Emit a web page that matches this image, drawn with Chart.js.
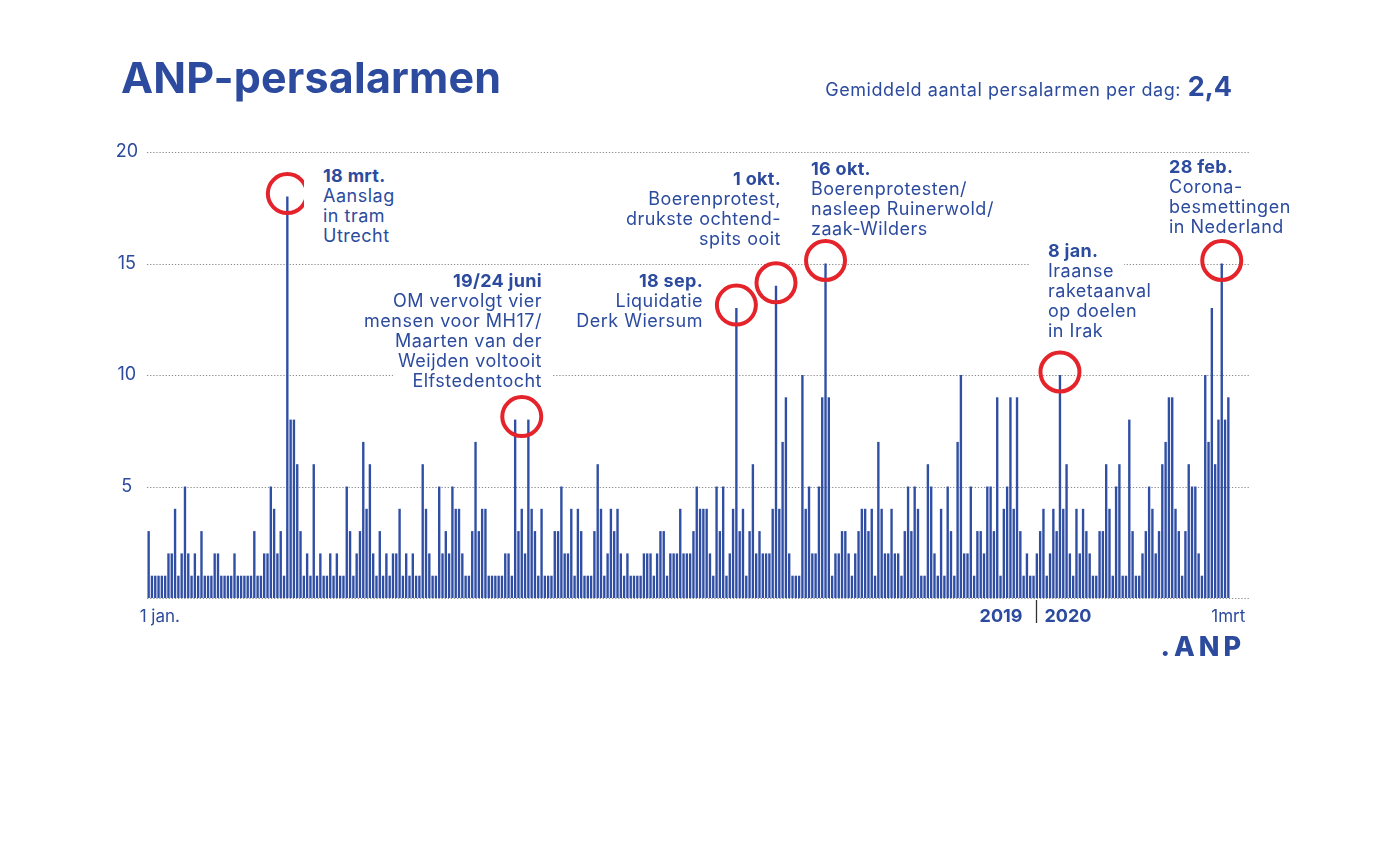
<!DOCTYPE html>
<html>
<head>
<meta charset="utf-8">
<title>ANP-persalarmen</title>
<style>
  html, body { margin: 0; background: #fff; }
  body { font-family: Inter, "Noto Sans", sans-serif; color: #2c4b9e; }
  #wrap { position: relative; width: 1400px; height: 855px; overflow: hidden; }
  #chart { position: absolute; left: 0; top: 0; }
  .title { position: absolute; left: 121px; top: 56px; font-size: 43px; font-weight: 700; line-height: 43px; letter-spacing: 0.2px; white-space: nowrap; }
  .avg { position: absolute; right: 168px; top: 72px; font-size: 18px; line-height: 30px; letter-spacing: 0.55px; white-space: nowrap; }
  .avg b { font-size: 27px; font-weight: 700; margin-left: 1px; letter-spacing: 0; }
  .logo { position: absolute; right: 155px; top: 632px; font-size: 27px; font-weight: 800; letter-spacing: 4px; line-height: 30px; }
  .note { position: absolute; font-size: 18px; line-height: 20px; letter-spacing: 0.5px; white-space: nowrap; }
  .note div span { display: inline-block; background: #fff; padding: 0 10px 0 19px; margin: 0 -10px 0 -19px; }
  .note .d { font-weight: 700; line-height: 21px; letter-spacing: 0.3px; }
</style>
</head>
<body>
<div id="wrap">
  <canvas id="chart" width="1400" height="855" style="width:1400px;height:855px"></canvas>
  <div class="title">ANP-persalarmen</div>
  <div class="avg">Gemiddeld aantal persalarmen per dag: <b>2,4</b></div>
  <div class="logo">.ANP</div>
  <div id="notes"></div>
</div>

<script src="https://cdn.jsdelivr.net/npm/chart.js@4.4.1/dist/chart.umd.min.js"></script>
<script>
// persalarmen per dag, 1 jan. 2019 - 1 mrt 2020 (alleen dagen met een alarm)
const alarmsPerDay = [
  3,1,1,1,1,1,2,2,4,1,2,5,2,1,2,1,3,1,1,1,2,2,1,1,1,1,2,1,1,1,1,1,3,1,1,2,2,5,4,2,3,1,18,8,8,6,3,
  1,2,1,6,1,2,1,1,2,1,2,1,1,5,3,1,2,3,7,4,6,2,1,3,1,2,1,2,2,4,1,2,1,2,1,1,6,4,2,1,1,5,2,3,2,5,4,
  4,2,1,1,3,7,3,4,4,1,1,1,1,1,2,2,1,8,3,4,2,8,4,3,1,4,1,1,1,3,3,5,2,2,4,1,4,3,1,1,1,3,6,4,1,2,4,
  3,4,2,1,2,1,1,1,1,2,2,2,1,2,3,3,1,2,2,2,4,2,2,2,3,5,4,4,4,2,1,5,3,5,1,2,4,13,3,4,1,3,6,2,3,2,2,
  2,4,14,4,7,9,2,1,1,1,10,4,5,2,2,5,9,15,9,1,2,2,3,3,2,1,2,3,4,4,3,4,1,7,4,2,2,4,2,2,1,3,5,3,5,4,1,1,
  6,5,2,1,4,1,5,3,1,7,10,2,2,5,1,3,3,2,5,5,3,9,1,4,5,9,4,9,3,1,2,1,1,2,3,4,1,2,4,3,10,4,6,2,1,4,2,
  4,3,2,1,1,3,3,6,4,1,5,6,1,1,8,3,1,1,2,3,5,4,2,3,6,7,9,9,4,3,1,3,6,5,5,2,1,10,7,13,6,8,15,8,9
];
const yTickValues = [0, 5, 10, 15, 20];
const startLabel = '1 jan.';
const endLabel = '1mrt';
const yearLabels = ['2019', '2020'];
const firstBar2020 = 270;

// uitschieters: welke staven omcirkeld worden, met de bijbehorende tekst
const eventBars = [[42], [111, 115], [178], [190], [205], [276], [325]];
const eventDates = ['18 mrt.', '19/24 juni', '18 sep.', '1 okt.', '16 okt.', '8 jan.', '28 feb.'];
const eventTexts = [
  ['Aanslag', 'in tram', 'Utrecht'],
  ['OM vervolgt vier', 'mensen voor MH17/', 'Maarten van der', 'Weijden voltooit', 'Elfstedentocht'],
  ['Liquidatie', 'Derk Wiersum'],
  ['Boerenprotest,', 'drukste ochtend-', 'spits ooit'],
  ['Boerenprotesten/', 'nasleep Ruinerwold/', 'zaak-Wilders'],
  ['Iraanse', 'raketaanval', 'op doelen', 'in Irak'],
  ['Corona-', 'besmettingen', 'in Nederland']
];

// plek van de teksten op de pagina
const notePlace = [
  { x: 323, y: 165, align: 'left' },
  { x: 542, y: 270, align: 'right' },
  { x: 703, y: 270, align: 'right' },
  { x: 781, y: 168, align: 'right' },
  { x: 811, y: 158, align: 'left' },
  { x: 1048, y: 240, align: 'left' },
  { x: 1169, y: 156, align: 'left' }
];

const BLUE = '#2c4b9e';
const BAR = '#2f4ea4';
const RED = '#e5232a';

const notes = document.getElementById('notes');
eventDates.forEach((d, i) => {
  const p = notePlace[i];
  const el = document.createElement('div');
  el.className = 'note';
  el.style.top = p.y + 'px';
  if (p.align === 'left') el.style.left = p.x + 'px';
  else { el.style.right = (1400 - p.x) + 'px'; el.style.textAlign = 'right'; }
  el.innerHTML = '<div class="d"><span>' + d + '</span></div>' +
    eventTexts[i].map(t => '<div><span>' + t + '</span></div>').join('');
  notes.appendChild(el);
});

const decor = {
  id: 'decor',
  beforeDatasetsDraw(chart) {
    const { ctx, scales: { x, y } } = chart;
    ctx.save();
    ctx.strokeStyle = '#8e8e8e';
    ctx.lineWidth = 1.2;
    ctx.setLineDash([1.3, 1.8]);
    yTickValues.forEach(v => {
      const py = Math.round(y.getPixelForValue(v)) + 0.5;
      ctx.beginPath();
      ctx.moveTo(x.left, py);
      ctx.lineTo(x.right + 20, py);
      ctx.stroke();
    });
    ctx.restore();
  },
  afterDatasetsDraw(chart) {
    const { ctx, scales: { x, y } } = chart;
    ctx.save();
    // rode cirkels
    ctx.strokeStyle = RED;
    ctx.lineWidth = 4;
    eventBars.forEach(idx => {
      const cx = idx.reduce((s, i) => s + x.getPixelForValue(i), 0) / idx.length;
      const top = Math.max(...idx.map(i => alarmsPerDay[i]));
      const cy = y.getPixelForValue(top) - 3;
      ctx.beginPath();
      ctx.arc(cx, cy, 19.5, 0, Math.PI * 2);
      ctx.stroke();
    });

    // x-as
    const base = y.getPixelForValue(0);
    const first = x.getPixelForValue(0);
    const last = x.getPixelForValue(alarmsPerDay.length - 1);
    const split = (x.getPixelForValue(firstBar2020 - 1) + x.getPixelForValue(firstBar2020)) / 2 - 2;
    ctx.strokeStyle = '#333';
    ctx.lineWidth = 1.3;
    ctx.beginPath();
    ctx.moveTo(split, base + 2);
    ctx.lineTo(split, base + 25);
    ctx.stroke();

    ctx.fillStyle = BLUE;
    ctx.textBaseline = 'alphabetic';
    const ly = base + 24;
    ctx.font = '17px Inter';
    ctx.textAlign = 'left';
    ctx.fillText(startLabel, first - 9, ly);
    ctx.textAlign = 'right';
    ctx.fillText(endLabel, last + 17, ly);
    ctx.font = 'bold 18px Inter';
    ctx.fillText(yearLabels[0], split - 14, ly);
    ctx.textAlign = 'left';
    ctx.fillText(yearLabels[1], split + 8, ly);
    ctx.restore();
  }
};

new Chart(document.getElementById('chart'), {
  type: 'bar',
  data: {
    labels: alarmsPerDay.map((_, i) => i),
    datasets: [{
      data: alarmsPerDay,
      backgroundColor: BAR,
      barPercentage: 0.72,
      categoryPercentage: 1
    }]
  },
  options: {
    responsive: false,
    animation: false,
    layout: { padding: { left: 116, top: 152, right: 170, bottom: 257 } },
    plugins: { legend: { display: false }, tooltip: { enabled: false } },
    scales: {
      x: { display: false },
      y: {
        min: 0,
        max: 20,
        afterBuildTicks: s => { s.ticks = yTickValues.map(v => ({ value: v })); },
        afterFit: s => { s.width = 31; },
        grid: { display: false, drawTicks: false },
        border: { display: false },
        ticks: {
          padding: 9,
          crossAlign: 'center',
          color: BLUE,
          font: { family: 'Inter', size: 18 },
          callback: v => v === 0 ? '' : v
        }
      }
    }
  },
  plugins: [decor]
});
</script>
</body>
</html>
